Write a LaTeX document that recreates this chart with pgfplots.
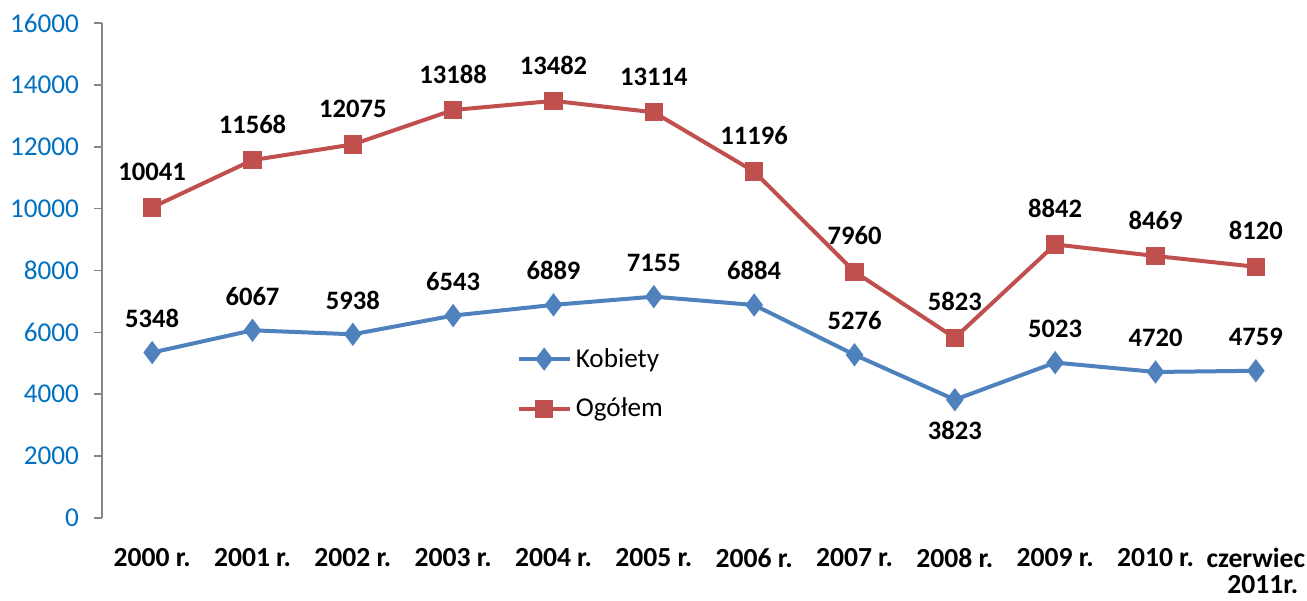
\documentclass[border=0pt]{standalone}
\usepackage{fontspec}
\setmainfont{Carlito}
\usepackage{pgfplots}
\pgfplotsset{compat=1.18}
\definecolor{kblue}{HTML}{4F81BD}
\definecolor{ored}{HTML}{C0504D}
\definecolor{tickblue}{HTML}{0070C0}
\definecolor{axgray}{HTML}{868686}
\begin{document}
\begin{tikzpicture}
\begin{axis}[
  at={(0,0)}, anchor=south west,
  scale only axis, width=602pt, height=247.5pt,
  xmin=-0.5, xmax=11.5, ymin=0, ymax=16000,
  axis x line*=bottom,
  x axis line style={draw=none},
  xtick={0,...,11},
  xticklabels={2000 r.,2001 r.,2002 r.,2003 r.,2004 r.,2005 r.,2006 r.,2007 r.,2008 r.,2009 r.,2010 r.,{czerwiec\\\hspace*{0.5em}2011r.}},
  xtick style={draw=none},
  xticklabel style={font=\bfseries\fontsize{13.8}{13}\selectfont, align=center, anchor=north, yshift=-7.7pt},
  axis y line*=left,
  y axis line style={draw=axgray, line width=0.8pt},
  ytick={0,2000,...,16000},
  scaled y ticks=false,
  ytick style={draw=axgray, line width=0.8pt},
  tick align=outside, major tick length=4pt,
  yticklabel style={font=\fontsize{13.6}{15}\selectfont, text=tickblue, xshift=-4pt},
  /pgf/number format/.cd, 1000 sep={}, assume math mode=true, /pgfplots/.cd,
  legend style={at={(rel axis cs:0.344,0.352)}, anchor=north west, draw=none, fill=none,
     font=\fontsize{13.6}{15}\selectfont, row sep=10pt, inner sep=0pt},
  legend cell align=left,
  legend image code/.code={\draw[mark repeat=2, mark phase=2] plot coordinates {(0cm,0cm) (0.45cm,0cm) (0.9cm,0cm)};},
  nodes near coords style={font=\bfseries\fontsize{13.3}{15}\selectfont, text=black},
  clip=false,
]
\addplot[kblue, line width=2pt, mark=diamond*, mark size=4.2pt, mark options={fill=kblue, draw=kblue}]
  coordinates {(0,5348) (1,6067) (2,5938) (3,6543) (4,6889) (5,7155) (6,6884) (7,5276) (8,3823) (9,5023) (10,4720) (11,4759)};
\addlegendentry{Kobiety}
\addplot[ored, line width=2pt, mark=square*, mark size=3.6pt, mark options={fill=ored, draw=ored},
  nodes near coords, every node near coord/.append style={anchor=south, yshift=9pt}]
  coordinates {(0,10041) (1,11568) (2,12075) (3,13188) (4,13482) (5,13114) (6,11196) (7,7960) (8,5823) (9,8842) (10,8469) (11,8120)};
\addlegendentry{Ogółem}
\addplot[draw=none, mark=none, forget plot, nodes near coords, every node near coord/.append style={anchor=south, yshift=9pt}]
  coordinates {(0,5348) (1,6067) (2,5938) (3,6543) (4,6889) (5,7155) (6,6884) (7,5276) (9,5023) (10,4720) (11,4759)};
\addplot[draw=none, mark=none, forget plot, nodes near coords, every node near coord/.append style={anchor=north, yshift=-7pt}]
  coordinates {(8,3823)};
\end{axis}
\pgfresetboundingbox
\path (-51pt,-41pt) rectangle (602.5pt,259pt);
\end{tikzpicture}
\end{document}
